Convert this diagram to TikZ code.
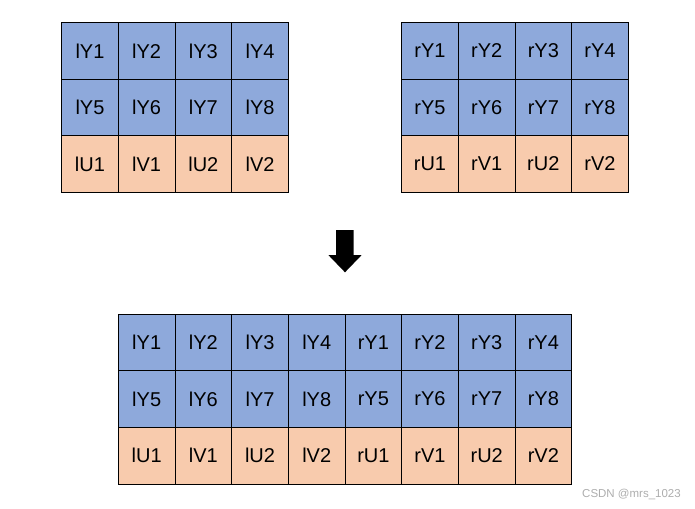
\documentclass[tikz,border=0pt]{standalone}
\usepackage{fontspec}
\setmainfont{Liberation Sans}
\usetikzlibrary{calc}
\definecolor{lumablue}{HTML}{8EA9DB}
\definecolor{chromaorange}{HTML}{F8CBAD}
\tikzset{
  cell/.style={draw=black,line width=0.9pt,minimum width=56.67pt,minimum height=56.6pt,inner sep=0pt,font=\fontsize{20}{24}\selectfont},
  ycell/.style={cell,fill=lumablue},
  uvcell/.style={cell,fill=chromaorange}
}

\begin{document}
\begin{tikzpicture}[x=1pt,y=-1pt]
\useasboundingbox (0,0) rectangle (695,508);
% left frame
\foreach \lab [count=\c from 0] in {Y1,Y2,Y3,Y4} \node[ycell] (l-\lab) at ({90+56.67*\c},51) {l\lab};
\foreach \lab [count=\c from 0] in {Y5,Y6,Y7,Y8} \node[ycell] (l-\lab) at ({90+56.67*\c},107.5) {l\lab};
\foreach \lab [count=\c from 0] in {U1,V1,U2,V2} \node[uvcell] (l-\lab) at ({90+56.67*\c},164) {l\lab};
% right frame
\foreach \lab [count=\c from 0] in {Y1,Y2,Y3,Y4} \node[ycell] (r-\lab) at ({430+56.67*\c},51) {r\lab};
\foreach \lab [count=\c from 0] in {Y5,Y6,Y7,Y8} \node[ycell] (r-\lab) at ({430+56.67*\c},107.5) {r\lab};
\foreach \lab [count=\c from 0] in {U1,V1,U2,V2} \node[uvcell] (r-\lab) at ({430+56.67*\c},164) {r\lab};
% merged frame
\foreach \lab [count=\c from 0] in {lY1,lY2,lY3,lY4,rY1,rY2,rY3,rY4} \node[ycell] (m-\lab) at ({146.7+56.67*\c},342.6) {\lab};
\foreach \lab [count=\c from 0] in {lY5,lY6,lY7,lY8,rY5,rY6,rY7,rY8} \node[ycell] (m-\lab) at ({146.7+56.67*\c},399.1) {\lab};
\foreach \lab [count=\c from 0] in {lU1,lV1,lU2,lV2,rU1,rV1,rU2,rV2} \node[uvcell] (m-\lab) at ({146.7+56.67*\c},455.7) {\lab};
% arrow
\fill (336,230) -- (353.6,230) -- (353.6,255) -- (361.7,255) -- (345,272.3) -- (328.3,255) -- (336,255) -- cycle;
\node[text=black!32,font=\fontsize{11.5}{13}\selectfont] (watermark) at (631.5,494.5) {CSDN @mrs\_1023};
\end{tikzpicture}
\end{document}
